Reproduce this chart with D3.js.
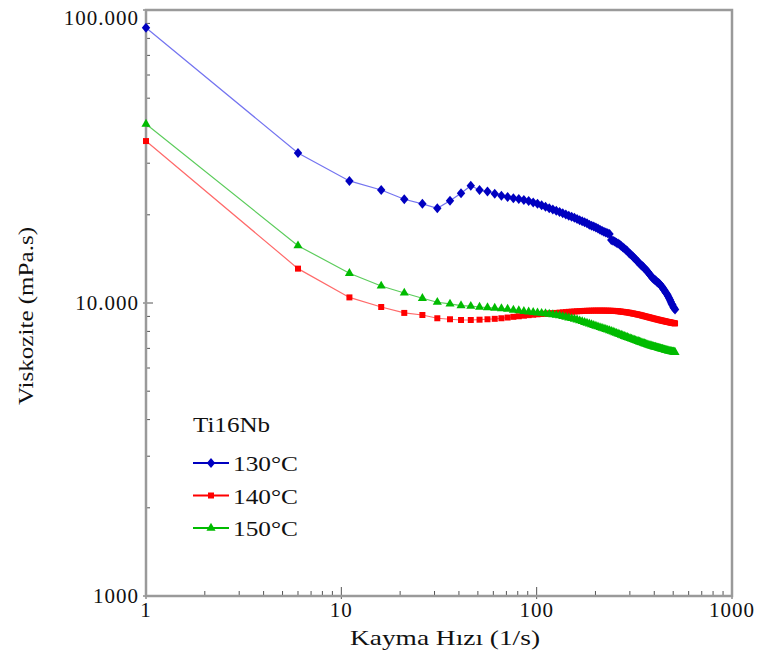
<!DOCTYPE html>
<html lang="tr">
<head>
<meta charset="UTF-8">
<title>Ti16Nb viskozite</title>
<script src="https://cdn.jsdelivr.net/npm/d3@7"></script>
<style>
  body { margin: 0; background: #fff; }
  text { font-family: "Liberation Serif", "Times New Roman", serif; fill: #111; }
</style>
</head>
<body>
<script>
// shear rate grid (1/s)
var rate = [1, 6, 11, 16, 21, 26, 31, 36, 41, 46, 51, 56, 61, 66, 71, 76, 81, 86, 91, 96,
  101, 106, 111, 116, 121, 126, 131, 136, 141, 146, 151, 156, 161, 166, 171, 176, 181, 186, 191, 196,
  201, 206, 211, 216, 221, 226, 231, 236, 241, 246, 251, 256, 261, 266, 271, 276, 281, 286, 291, 296,
  301, 306, 311, 316, 321, 326, 331, 336, 341, 346, 351, 356, 361, 366, 371, 376, 381, 386, 391, 396,
  401, 406, 411, 416, 421, 426, 431, 436, 441, 446, 451, 456, 461, 466, 471, 476, 481, 486, 491, 496,
  501, 506, 511];

// viscosity (mPa.s)
var visc130 = [87000, 32500, 26100, 24300, 22600, 21800, 21050, 22340, 23680, 25140, 24300, 24000, 23600, 23250, 23000, 22800, 22650, 22450, 22300, 22050,
  21800, 21550, 21300, 21050, 20850, 20650, 20450, 20250, 20050, 19850, 19700, 19550, 19350, 19150, 19000, 18850, 18700, 18500, 18350, 18250,
  18100, 17950, 17800, 17650, 17500, 17400, 17300, 17200, 16400, 16300, 16200, 16050, 15950, 15850, 15650, 15500, 15350, 15200, 15050, 14850,
  14700, 14550, 14400, 14250, 14100, 13950, 13800, 13650, 13500, 13400, 13300, 13150, 13000, 12900, 12750, 12600, 12450, 12350, 12200, 12100,
  12000, 11950, 11850, 11750, 11700, 11600, 11500, 11400, 11300, 11150, 11050, 10900, 10800, 10700, 10550, 10400, 10250, 10100, 9950, 9850,
  9700, 9600, 9500];
var visc140 = [35700, 13100, 10450, 9690, 9250, 9100, 8870, 8800, 8750, 8750, 8770, 8800, 8830, 8870, 8920, 8970, 9010, 9050, 9090, 9120,
  9150, 9170, 9190, 9210, 9230, 9250, 9270, 9290, 9310, 9330, 9340, 9355, 9370, 9380, 9390, 9400, 9405, 9410, 9415, 9420,
  9420, 9420, 9420, 9420, 9420, 9415, 9415, 9410, 9405, 9400, 9395, 9385, 9375, 9360, 9345, 9330, 9315, 9300, 9285, 9270,
  9250, 9230, 9210, 9190, 9170, 9150, 9130, 9110, 9090, 9065, 9040, 9020, 9000, 8975, 8955, 8935, 8915, 8895, 8875, 8855,
  8835, 8815, 8800, 8780, 8765, 8745, 8730, 8715, 8700, 8685, 8670, 8655, 8640, 8625, 8615, 8600, 8590, 8575, 8565, 8550,
  8540, 8530, 8520];
var visc150 = [40800, 15690, 12630, 11430, 10820, 10380, 10060, 9930, 9800, 9750, 9690, 9650, 9610, 9570, 9530, 9460, 9420, 9370, 9330, 9290,
  9260, 9230, 9200, 9170, 9130, 9090, 9050, 9000, 8950, 8900, 8860, 8810, 8760, 8700, 8650, 8590, 8540, 8490, 8440, 8390,
  8340, 8300, 8250, 8210, 8170, 8130, 8090, 8050, 8010, 7970, 7930, 7890, 7850, 7810, 7770, 7740, 7700, 7670, 7640, 7600,
  7570, 7540, 7510, 7480, 7450, 7420, 7400, 7370, 7340, 7320, 7290, 7270, 7250, 7220, 7200, 7180, 7160, 7140, 7120, 7100,
  7080, 7070, 7050, 7040, 7020, 7000, 6990, 6970, 6960, 6940, 6930, 6910, 6900, 6890, 6870, 6860, 6850, 6840, 6830, 6820,
  6810, 6800, 6790];

var seriesNames = ["130°C", "140°C", "150°C"];
var xTicks = [1, 10, 100, 1000];
var xTickLabels = ["1", "10", "100", "1000"];
var yTicks = [1000, 10000, 100000];
var yTickLabels = ["1000", "10.000", "100.000"];

var w = 757, h = 664;
// plot box (window.top is taken, so use a margin object)
var box = { left: 146, top: 10, right: 732, bottom: 596 };

var svg = d3.select("body").append("svg")
  .attr("width", w)
  .attr("height", h);

var x = d3.scaleLog().domain([1, 1000]).range([box.left, box.right]);
var y = d3.scaleLog().domain([1000, 100000]).range([box.bottom, box.top]);

// minor ticks 2..9 for each decade
var xMinor = [], yMinor = [];
[1, 10, 100].forEach(function (d) {
  for (var k = 2; k <= 9; k++) xMinor.push(d * k);
});
[1000, 10000].forEach(function (d) {
  for (var k = 2; k <= 9; k++) yMinor.push(d * k);
});

var axisCol = "#9a9a9a";
var g = svg.append("g");

g.selectAll(".xminor").data(xMinor).enter().append("line")
  .attr("x1", function (d) { return x(d); })
  .attr("x2", function (d) { return x(d); })
  .attr("y1", box.bottom).attr("y2", box.bottom - 5)
  .attr("stroke", "#555").attr("stroke-width", 1);
g.selectAll(".xmajor").data(xTicks).enter().append("line")
  .attr("x1", function (d) { return x(d); })
  .attr("x2", function (d) { return x(d); })
  .attr("y1", box.bottom + 3).attr("y2", box.bottom - 9)
  .attr("stroke", "#555").attr("stroke-width", 1);
g.selectAll(".yminor").data(yMinor).enter().append("line")
  .attr("y1", function (d) { return y(d); })
  .attr("y2", function (d) { return y(d); })
  .attr("x1", box.left).attr("x2", box.left + 4)
  .attr("stroke", "#555").attr("stroke-width", 1);
g.selectAll(".ymajor").data(yTicks).enter().append("line")
  .attr("y1", function (d) { return y(d); })
  .attr("y2", function (d) { return y(d); })
  .attr("x1", box.left - 3).attr("x2", box.left + 7)
  .attr("stroke", "#555").attr("stroke-width", 1);

// frame
svg.append("rect")
  .attr("x", box.left).attr("y", box.top)
  .attr("width", box.right - box.left).attr("height", box.bottom - box.top)
  .attr("fill", "none")
  .attr("stroke", axisCol)
  .attr("stroke-width", 2.5);

// tick labels
svg.selectAll(".xlab").data(xTicks).enter().append("text")
  .attr("x", function (d) { return x(d); })
  .attr("y", box.bottom + 21)
  .attr("text-anchor", "middle")
  .attr("font-size", "21px")
  .attr("letter-spacing", "1px")
  .text(function (d, i) { return xTickLabels[i]; });
svg.selectAll(".ylab").data(yTicks).enter().append("text")
  .attr("x", box.left - 7)
  .attr("y", function (d) { return Math.max(y(d) + 7, 25); })
  .attr("text-anchor", "end")
  .attr("font-size", "21px")
  .attr("letter-spacing", "1px")
  .text(function (d, i) { return yTickLabels[i]; });

// axis titles
svg.append("text")
  .attr("x", 445).attr("y", 645)
  .attr("text-anchor", "middle")
  .attr("font-size", "21px")
  .attr("textLength", 190)
  .attr("lengthAdjust", "spacingAndGlyphs")
  .text("Kayma Hızı (1/s)");
svg.append("text")
  .attr("transform", "translate(33,316) rotate(-90)")
  .attr("text-anchor", "middle")
  .attr("font-size", "21px")
  .attr("textLength", 178)
  .attr("lengthAdjust", "spacingAndGlyphs")
  .text("Viskozite (mPa.s)");

// series
var diamond = "M0,-5L4.2,0L0,5L-4.2,0Z";
var series = [
  { name: seriesNames[0], values: visc130, line: "#7474f0", fill: "#0000c0", shape: diamond },
  { name: seriesNames[1], values: visc140, line: "#ff6a6a", fill: "#ff0000", shape: d3.symbol().type(d3.symbolSquare).size(36)() },
  { name: seriesNames[2], values: visc150, line: "#5ccc5c", fill: "#00bb00", shape: d3.symbol().type(d3.symbolTriangle).size(36)() }
];

var line = d3.line()
  .x(function (d) { return x(d[0]); })
  .y(function (d) { return y(d[1]); });

series.forEach(function (s) {
  var pts = rate.map(function (r, i) { return [r, s.values[i]]; });
  var sg = svg.append("g");
  sg.append("path")
    .datum(pts)
    .attr("d", line)
    .attr("fill", "none")
    .attr("stroke", s.line)
    .attr("stroke-width", 1.2);
  sg.selectAll("path.mk").data(pts).enter().append("path")
    .attr("class", "mk")
    .attr("d", s.shape)
    .attr("transform", function (d) { return "translate(" + x(d[0]) + "," + y(d[1]) + ")"; })
    .attr("fill", s.fill);
});

// legend
var lg = svg.append("g");
lg.append("text")
  .attr("x", 193).attr("y", 432)
  .attr("font-size", "21px")
  .attr("textLength", 77)
  .attr("lengthAdjust", "spacingAndGlyphs")
  .text("Ti16Nb");
series.forEach(function (s, i) {
  var ly = 463 + i * 32.5;
  lg.append("line")
    .attr("x1", 193).attr("x2", 229)
    .attr("y1", ly).attr("y2", ly)
    .attr("stroke", s.fill).attr("stroke-width", 2);
  lg.append("path")
    .attr("d", s.shape)
    .attr("transform", "translate(211," + ly + ")")
    .attr("fill", s.fill);
  lg.append("text")
    .attr("x", 233).attr("y", ly + 8)
    .attr("font-size", "21px")
    .attr("textLength", 65)
    .attr("lengthAdjust", "spacingAndGlyphs")
    .text(s.name);
});
</script>
</body>
</html>
